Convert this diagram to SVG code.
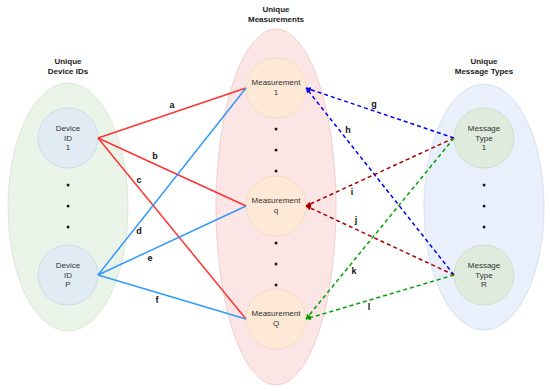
<svg xmlns="http://www.w3.org/2000/svg" width="550" height="391" viewBox="0 0 550 391">
<style>
.title{font-family:"Liberation Sans",Arial,sans-serif;font-size:8px;font-weight:bold;fill:#1a1a1a;text-anchor:middle}
.node{font-family:"Liberation Sans",Arial,sans-serif;font-size:8px;fill:#333333;text-anchor:middle}
.lbl{font-family:"Liberation Sans",Arial,sans-serif;font-size:9px;font-weight:bold;fill:#111111;text-anchor:middle}
.dot{fill:#111111}
.red{stroke:#ff3333;stroke-width:1.5;fill:none}
.blu{stroke:#3399ff;stroke-width:1.5;fill:none}
.dblue{stroke:#0000ee;stroke-width:1.5;fill:none;stroke-dasharray:4,3}
.dred{stroke:#aa0000;stroke-width:1.5;fill:none;stroke-dasharray:4,3}
.dgreen{stroke:#00a000;stroke-width:1.5;fill:none;stroke-dasharray:4,3}
</style>
<defs>
<marker id="arB" markerUnits="userSpaceOnUse" markerWidth="7" markerHeight="7" refX="5" refY="2.5" orient="auto"><path d="M0,0 L5,2.5 L0,5 Z" fill="#0000ee"/></marker>
<marker id="arR" markerUnits="userSpaceOnUse" markerWidth="7" markerHeight="7" refX="5" refY="2.5" orient="auto"><path d="M0,0 L5,2.5 L0,5 Z" fill="#aa0000"/></marker>
<marker id="arG" markerUnits="userSpaceOnUse" markerWidth="7" markerHeight="7" refX="5" refY="2.5" orient="auto"><path d="M0,0 L5,2.5 L0,5 Z" fill="#00a000"/></marker>
</defs>
<g id="group-devices">
<ellipse cx="68" cy="207" rx="60" ry="124" fill="#eaf3e8" stroke="#dbe9d8" stroke-width="1"/>
<text class="title" x="68" y="63.5">Unique</text>
<text class="title" x="68" y="73.5">Device IDs</text>
<rect class="dot" x="66.8" y="183.8" width="2.5" height="2.5"/>
<rect class="dot" x="66.8" y="204.8" width="2.5" height="2.5"/>
<rect class="dot" x="66.8" y="225.8" width="2.5" height="2.5"/>
</g>
<g id="group-measurements">
<ellipse cx="276" cy="207" rx="60" ry="178" fill="#fbe5e5" stroke="#f2cfcf" stroke-width="1"/>
<text class="title" x="276" y="12">Unique</text>
<text class="title" x="276" y="22">Measurements</text>
<rect class="dot" x="274.8" y="127.8" width="2.5" height="2.5"/>
<rect class="dot" x="274.8" y="148.8" width="2.5" height="2.5"/>
<rect class="dot" x="274.8" y="169.8" width="2.5" height="2.5"/>
<rect class="dot" x="274.8" y="241.8" width="2.5" height="2.5"/>
<rect class="dot" x="274.8" y="262.8" width="2.5" height="2.5"/>
<rect class="dot" x="274.8" y="283.8" width="2.5" height="2.5"/>
</g>
<g id="group-messages">
<ellipse cx="484" cy="207" rx="60" ry="123" fill="#e9f0fb" stroke="#d6e2f3" stroke-width="1"/>
<text class="title" x="484" y="63.5">Unique</text>
<text class="title" x="484" y="73.5">Message Types</text>
<rect class="dot" x="482.8" y="183.8" width="2.5" height="2.5"/>
<rect class="dot" x="482.8" y="204.8" width="2.5" height="2.5"/>
<rect class="dot" x="482.8" y="225.8" width="2.5" height="2.5"/>
</g>
<g id="device-1">
<circle cx="68" cy="138" r="30" fill="#e1ebf3" stroke="#cddbe8" stroke-width="1"/>
<text class="node" x="68" y="131">Device</text>
<text class="node" x="68" y="140.5">ID</text>
<text class="node" x="68" y="150">1</text>
</g>
<g id="device-P">
<circle cx="68" cy="275" r="30" fill="#e1ebf3" stroke="#cddbe8" stroke-width="1"/>
<text class="node" x="68" y="268">Device</text>
<text class="node" x="68" y="277.5">ID</text>
<text class="node" x="68" y="287">P</text>
</g>
<g id="measurement-1">
<circle cx="276" cy="88" r="30" fill="#fde9d6" stroke="#f6dcc2" stroke-width="1"/>
<text class="node" x="276" y="85.3">Measurement</text>
<text class="node" x="276" y="94.8">1</text>
</g>
<g id="measurement-q">
<circle cx="276" cy="206" r="30" fill="#fde9d6" stroke="#f6dcc2" stroke-width="1"/>
<text class="node" x="276" y="203.3">Measurement</text>
<text class="node" x="276" y="212.8">q</text>
</g>
<g id="measurement-Q">
<circle cx="276" cy="319" r="30" fill="#fde9d6" stroke="#f6dcc2" stroke-width="1"/>
<text class="node" x="276" y="316.3">Measurement</text>
<text class="node" x="276" y="325.8">Q</text>
</g>
<g id="message-1">
<circle cx="484" cy="138" r="30" fill="#dfebdd" stroke="#cfe0cc" stroke-width="1"/>
<text class="node" x="484" y="131">Message</text>
<text class="node" x="484" y="140.5">Type</text>
<text class="node" x="484" y="150">1</text>
</g>
<g id="message-R">
<circle cx="484" cy="275" r="30" fill="#dfebdd" stroke="#cfe0cc" stroke-width="1"/>
<text class="node" x="484" y="268">Message</text>
<text class="node" x="484" y="277.5">Type</text>
<text class="node" x="484" y="287">R</text>
</g>
<g id="connectors">
<line class="red" x1="98" y1="138" x2="246" y2="88"/>
<line class="red" x1="98" y1="138" x2="246" y2="206"/>
<line class="red" x1="98" y1="138" x2="246" y2="319"/>
<line class="blu" x1="98" y1="275" x2="246" y2="88"/>
<line class="blu" x1="98" y1="275" x2="246" y2="206"/>
<line class="blu" x1="98" y1="275" x2="246" y2="319"/>
<line class="dblue" x1="454" y1="138" x2="306" y2="88" marker-end="url(#arB)"/>
<line class="dblue" x1="454" y1="275" x2="306" y2="88" marker-end="url(#arB)"/>
<line class="dred" x1="454" y1="138" x2="306" y2="206" marker-end="url(#arR)"/>
<line class="dred" x1="454" y1="275" x2="306" y2="206" marker-end="url(#arR)"/>
<line class="dgreen" x1="454" y1="138" x2="306" y2="319" marker-end="url(#arG)"/>
<line class="dgreen" x1="454" y1="275" x2="306" y2="319" marker-end="url(#arG)"/>
<text class="lbl" x="172" y="108">a</text>
<text class="lbl" x="155" y="159">b</text>
<text class="lbl" x="139" y="183">c</text>
<text class="lbl" x="139" y="234">d</text>
<text class="lbl" x="150" y="261">e</text>
<text class="lbl" x="157" y="303">f</text>
<text class="lbl" x="374" y="107">g</text>
<text class="lbl" x="348" y="133">h</text>
<text class="lbl" x="352" y="195">i</text>
<text class="lbl" x="356" y="223">j</text>
<text class="lbl" x="354" y="274">k</text>
<text class="lbl" x="369" y="310">l</text>
</g>
</svg>
